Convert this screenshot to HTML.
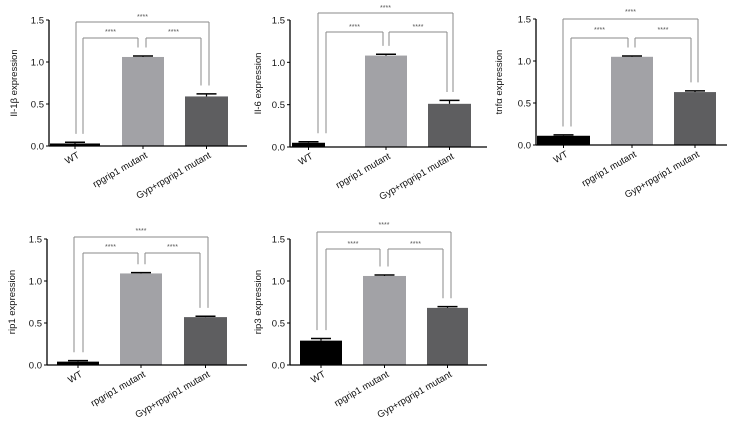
<!DOCTYPE html>
<html><head><meta charset="utf-8"><style>
html,body{margin:0;padding:0;background:#fff;}
svg{display:block;font-family:"Liberation Sans",Arial,sans-serif;}
</style></head><body>
<svg id="s" width="731" height="427" viewBox="0 0 731 427" xmlns="http://www.w3.org/2000/svg"></svg>
<script>
var P=[
{ax:49,y15:20,y0:146,xe:247,lab:"Il-1β expression",ly:17,bars:[[50,100,.03,.015],[122,164,1.06,.012],[185,228,.59,.03]],
 oy:22,ox:[76,209],iy:38,il:[83,138],ir:[146,201],st:15,si:30},
{ax:290,y15:20,y0:147,xe:487,lab:"Il-6 expression",ly:261,bars:[[292,325,.05,.012],[365,407,1.08,.015],[428,471,.51,.04]],
 oy:13,ox:[318,453],iy:32,il:[326,383],ir:[389,447],st:6,si:25},
{ax:536,y15:19,y0:145,xe:727,lab:"tnfα expression",ly:502,bars:[[537,590,.11,.01],[611,653,1.05,.01],[674,716,.63,.015]],
 oy:19,ox:[563,698],iy:38,il:[571,628],ir:[635,691],st:10,si:28},
{ax:47,y15:239,y0:365,xe:247,lab:"rip1 expression",ly:15,bars:[[57,99,.04,.012],[120,162,1.09,.01],[184,227,.57,.01]],
 oy:237,ox:[74,208],iy:253,il:[83,138],ir:[145,200],st:229,si:245},
{ax:290,y15:239,y0:365,xe:487,lab:"rip3 expression",ly:261,bars:[[300,342,.29,.025],[363,406,1.06,.012],[427,468,.68,.015]],
 oy:232,ox:[317,451],iy:249,il:[326,380],ir:[388,443],st:223,si:242}
];
var cols=["#000","#a2a2a6","#5e5e60"],names=["WT","rpgrip1 mutant","Gyp+rpgrip1 mutant"];
var h="";
function L(x1,y1,x2,y2,c,w){h+='<line x1="'+x1+'" y1="'+y1+'" x2="'+x2+'" y2="'+y2+'" stroke="'+c+'" stroke-width="'+(w||1)+'"/>';}
function T(x,y,t,a,ex){h+='<text x="'+x+'" y="'+y+'" font-size="'+(a.fs||8)+'" fill="'+(a.c||'#111')+'" text-anchor="'+(a.an||'middle')+'" '+(ex||'')+'>'+t+'</text>';}
P.forEach(function(p){
 var k=(p.y0-p.y15)/1.5;
 function Y(v){return p.y0-v*k;}
 var legs=[];
 p.bars.forEach(function(b,i){
  var yt=Y(b[2]);
  h+='<rect x="'+b[0]+'" y="'+yt+'" width="'+(b[1]-b[0])+'" height="'+(p.y0-yt)+'" fill="'+cols[i]+'"/>';
  var c=(b[0]+b[1])/2,ye=Y(b[2]+b[3]);
  L(c,yt,c,ye,"#000",1.2);L(c-10,ye,c+10,ye,"#000",1.5);
  legs.push(Y(b[2]+b[3]+0.1));
  L(c,p.y0,c,p.y0+3,"#000");
  T(c+5,p.y0+11,names[i],{an:"end",fs:9.5},'transform="rotate(-30 '+(c+5)+' '+(p.y0+11)+')"');
 });
 L(p.ax,p.y15,p.ax,p.y0+0.5,"#000",1.3);L(p.ax,p.y0,p.xe,p.y0,"#000",1.3);
 [0,.5,1,1.5].forEach(function(v){var y=Y(v);L(p.ax-3,y,p.ax,y,"#000");T(p.ax-5,y+3.5,v.toFixed(1),{an:"end",fs:9.5});});
 T(p.ly,(p.y15+p.y0)/2,p.lab,{fs:9.5},'transform="rotate(-90 '+p.ly+' '+((p.y15+p.y0)/2)+')"');
 var g="#8a8a8a";
 L(p.ox[0],p.oy,p.ox[1],p.oy,g);L(p.ox[0],p.oy,p.ox[0],legs[0],g);L(p.ox[1],p.oy,p.ox[1],legs[2],g);
 L(p.il[0],p.iy,p.il[1],p.iy,g);L(p.il[0],p.iy,p.il[0],legs[0],g);L(p.il[1],p.iy,p.il[1],legs[1],g);
 L(p.ir[0],p.iy,p.ir[1],p.iy,g);L(p.ir[0],p.iy,p.ir[0],legs[1],g);L(p.ir[1],p.iy,p.ir[1],legs[2],g);
 T((p.ox[0]+p.ox[1])/2,p.st+4,"****",{fs:7,c:"#555"});
 T((p.il[0]+p.il[1])/2,p.si+4,"****",{fs:7,c:"#555"});
 T((p.ir[0]+p.ir[1])/2,p.si+4,"****",{fs:7,c:"#555"});
});
document.getElementById("s").innerHTML=h;
</script>
</body></html>
